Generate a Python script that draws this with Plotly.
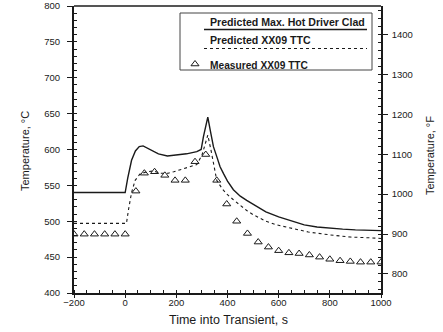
import plotly.graph_objects as go

# ---- data ----
t_clad = [-200, 0, 10, 25, 40, 55, 70, 100, 130, 165, 200, 240, 280, 297, 306, 314, 323, 333, 345, 360, 371,
          385, 400, 423, 450, 475, 500, 550, 600, 650, 700, 750, 800, 850, 900, 950, 1000]
T_clad = [540, 540, 560, 585, 598, 604, 605, 600, 594, 591, 592, 594, 597, 600, 618, 632, 645, 626, 604, 588, 576,
          566, 556, 544, 535, 529, 524, 513, 506, 500, 495, 492, 490, 489, 488, 487, 487]

t_ttc = [-200, 5, 13, 25, 39, 58, 85, 110, 137, 168, 190, 234, 280, 300, 312, 323, 335, 358, 380, 400, 423,
         450, 475, 501, 550, 592, 650, 716, 800, 879, 950, 1000]
T_ttc = [497, 497, 516, 540, 557, 566, 569, 570, 567, 567, 569, 574, 579, 592, 605, 620, 600, 557, 545, 537, 530,
         522, 515, 509, 500, 495, 490, 485, 481, 478, 477, 476]

t_meas = [-200, -160, -120, -80, -40, 0, 42, 75, 115, 155, 195, 235, 273, 315, 358, 397, 436, 478, 520, 560,
          600, 640, 680, 720, 760, 800, 840, 880, 920, 960, 1000]
T_meas = [482, 482, 482, 482, 482, 482, 542, 567, 569, 564, 557, 557, 583, 593, 557, 524, 500, 483, 471, 464,
          459, 456, 455, 453, 450, 447, 445, 444, 443, 443, 443]

x_ticks = [-200, 0, 200, 400, 600, 800, 1000]
yC_ticks = [400, 450, 500, 550, 600, 650, 700, 750, 800]
yF_ticks = [800, 900, 1000, 1100, 1200, 1300, 1400]

legend_labels = ["Predicted Max. Hot Driver Clad", "Predicted XX09 TTC", "Measured XX09 TTC"]

INK = "#1a1a1a"
FONT = "Liberation Sans, Arial, sans-serif"

W, H = 443, 332
L, R, T, B = 74, 62, 6, 39
PW, PH = W - L - R, H - T - B


def px(x):
    return (x - L) / PW


def py(y):
    return (H - B - y) / PH


fig = go.Figure()
fig.add_trace(go.Scatter(x=t_clad, y=T_clad, mode="lines", line=dict(color=INK, width=1.4),
                         name=legend_labels[0], showlegend=False))
fig.add_trace(go.Scatter(x=t_ttc, y=T_ttc, mode="lines", line=dict(color=INK, width=1.1, dash="dot"),
                         name=legend_labels[1], showlegend=False))
fig.add_trace(go.Scatter(x=t_meas, y=T_meas, mode="markers",
                         marker=dict(symbol="triangle-up-open", size=7, color=INK, line=dict(width=1)),
                         name=legend_labels[2], showlegend=False))
fig.add_trace(go.Scatter(x=[None], y=[None], yaxis="y2", showlegend=False, hoverinfo="skip"))

cmin, cmax = 400, 800
fig.update_layout(
    width=W, height=H,
    margin=dict(l=L, r=R, t=T, b=B, autoexpand=False),
    paper_bgcolor="white", plot_bgcolor="white",
    font=dict(family=FONT, color=INK, size=10),
    xaxis=dict(range=[-200, 1000], tickvals=x_ticks, ticks="outside", ticklen=3, tickwidth=1,
               tickcolor=INK, showline=True, linecolor=INK, linewidth=1.5, mirror=False,
               showgrid=False, zeroline=False, tickfont=dict(size=9.5), automargin=False,
               ticklabelstandoff=-3,
               minor=dict(dtick=50, tick0=0, ticks="inside", ticklen=3, tickcolor=INK, showgrid=False)),
    yaxis=dict(range=[cmin, cmax], tickvals=yC_ticks, ticks="outside", ticklen=5, tickwidth=1,
               tickcolor=INK, showline=True, linecolor=INK, linewidth=2, mirror=False,
               showgrid=False, zeroline=False, tickfont=dict(size=9.5), automargin=False,
               ticklabelstandoff=5,
               minor=dict(dtick=10, tick0=0, ticks="inside", ticklen=3, tickcolor=INK, showgrid=False)),
    yaxis2=dict(range=[cmin * 9 / 5 + 32, cmax * 9 / 5 + 32], overlaying="y", side="right",
                tickvals=yF_ticks, ticks="outside", ticklen=5, tickwidth=1, tickcolor=INK,
                showline=True, linecolor=INK, linewidth=1.5, showgrid=False, zeroline=False,
                tickfont=dict(size=9.5), automargin=False, ticklabelstandoff=2,
                minor=dict(dtick=20, tick0=0, ticks="inside", ticklen=3, tickcolor=INK, showgrid=False)),
    xaxis3=dict(range=[0, 1], domain=[0, 1], visible=False, overlaying="x", anchor="y3", automargin=False),
    yaxis3=dict(range=[0, 1], domain=[0, 1], visible=False, overlaying="y", anchor="x3", automargin=False),
)

# axis titles as annotations
fig.add_annotation(xref="paper", yref="paper", x=px(228), y=py(320), xanchor="center", yanchor="middle",
                   showarrow=False, text="Time into Transient, s", font=dict(size=12.5, color=INK))
fig.add_annotation(xref="paper", yref="paper", x=px(25), y=py(151), xanchor="center", yanchor="middle",
                   showarrow=False, textangle=-90, text="Temperature, °C", font=dict(size=11, color=INK))
fig.add_annotation(xref="paper", yref="paper", x=px(430), y=py(156), xanchor="center", yanchor="middle",
                   showarrow=False, textangle=-90, text="Temperature, °F", font=dict(size=11, color=INK))

# top frame line
fig.add_shape(type="line", xref="paper", yref="paper", x0=0, x1=1, y0=1, y1=1,
              line=dict(color="#555", width=2))

# legend box built from shapes/annotations
fig.add_shape(type="rect", xref="paper", yref="paper", x0=px(180), x1=px(372), y0=py(70), y1=py(13),
              line=dict(color="#444", width=1), fillcolor="rgba(0,0,0,0)")
fig.add_annotation(xref="paper", yref="paper", x=px(367), y=py(22.5), xanchor="right", yanchor="middle",
                   showarrow=False, text="<b>" + legend_labels[0] + "</b>", font=dict(size=10.6, color=INK))
fig.add_shape(type="line", xref="paper", yref="paper", x0=px(204), x1=px(367), y0=py(29.5), y1=py(29.5),
              line=dict(color=INK, width=1.4))
fig.add_annotation(xref="paper", yref="paper", x=px(208), y=py(40), xanchor="left", yanchor="middle",
                   showarrow=False, text="<b>" + legend_labels[1] + "</b>", font=dict(size=10.6, color=INK))
fig.add_shape(type="line", xref="paper", yref="paper", x0=px(204), x1=px(367), y0=py(48.5), y1=py(48.5),
              line=dict(color=INK, width=1.1, dash="dot"))
fig.add_annotation(xref="paper", yref="paper", x=px(208), y=py(65), xanchor="left", yanchor="middle",
                   showarrow=False, text="<b>" + legend_labels[2] + "</b>", font=dict(size=10.2, color=INK))
fig.add_trace(go.Scatter(x=[px(195)], y=[py(64)], xaxis="x3", yaxis="y3", mode="markers",
                         marker=dict(symbol="triangle-up-open", size=7, color=INK, line=dict(width=1)),
                         showlegend=False, hoverinfo="skip"))

fig.write_html("out.html", config={"displayModeBar": False},
               post_script="document.body.style.margin='0';document.body.style.overflow='hidden';")
